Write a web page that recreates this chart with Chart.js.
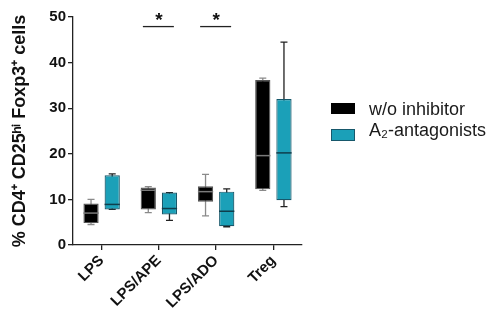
<!DOCTYPE html>
<html>
<head>
<meta charset="utf-8">
<script src="https://cdn.jsdelivr.net/npm/chart.js@4/dist/chart.umd.min.js"></script>
<style>
    body { margin: 0; background: #fff; }
    #wrap { position: relative; width: 493px; height: 330px; }
    .swatch { position: absolute; left: 331px; width: 24px; height: 11px; box-sizing: border-box; }
    .leg-text { position: absolute; left: 369px; font: 18px "Liberation Sans", Arial, sans-serif; line-height: 18px; color: #1a1a1a; white-space: nowrap; }
</style>
</head>
<body>
<div id="wrap">
    <canvas id="box-chart" width="493" height="330"></canvas>
    <div class="swatch" style="top:103px; background:#000;"></div>
    <div class="leg-text" style="top:100px;">w/o inhibitor</div>
    <div class="swatch" style="top:129px; height:12px; background:#1ba0b8; border:1px solid #17586b;"></div>
    <div class="leg-text" style="top:121px;">A₂-antagonists</div>
</div>
<script>
'use strict';

const categories = ['LPS', 'LPS/APE', 'LPS/ADO', 'Treg'];

// w/o inhibitor
const no_inh_min = [4.5, 7.1, 6.4, 12.0];
const no_inh_q1 = [4.8, 7.8, 9.5, 12.2];
const no_inh_median = [7.0, 12.0, 11.7, 19.6];
const no_inh_q3 = [9.1, 12.6, 12.9, 36.2];
const no_inh_max = [10.0, 12.8, 15.5, 36.6];

// A2-antagonists
const antag_min = [7.8, 5.4, 4.0, 8.4];
const antag_q1 = [7.8, 6.7, 4.1, 9.8];
const antag_median = [8.9, 8.0, 7.4, 20.2];
const antag_q3 = [15.3, 11.5, 11.7, 32.0];
const antag_max = [15.6, 11.5, 12.3, 44.5];

const sig_groups = ['LPS/APE', 'LPS/ADO'];
const sig_level = 47.9;

const y_ticks = [0, 10, 20, 30, 40, 50];

const font_family = '"Liberation Sans", Arial, sans-serif';

// whiskers behind the boxes, medians and significance marks on top
const box_extras = {
    id: 'box_extras',
    beforeDatasetsDraw(chart) {
        const ctx = chart.ctx;
        const y = chart.scales.y;
        chart.data.datasets.forEach((ds, d) => {
            chart.getDatasetMeta(d).data.forEach((bar, i) => {
                const x = bar.x;
                ctx.save();
                ctx.strokeStyle = ds.whiskerColor;
                ctx.lineWidth = 1.3;
                ctx.beginPath();
                ctx.moveTo(x, y.getPixelForValue(ds.stats.min[i]));
                ctx.lineTo(x, y.getPixelForValue(ds.stats.max[i]));
                [ds.stats.min[i], ds.stats.max[i]].forEach(v => {
                    const py = y.getPixelForValue(v);
                    ctx.moveTo(x - 3.5, py);
                    ctx.lineTo(x + 3.5, py);
                });
                ctx.stroke();
                ctx.restore();
            });
        });
    },
    afterDatasetsDraw(chart) {
        const ctx = chart.ctx;
        const x = chart.scales.x;
        const y = chart.scales.y;
        chart.data.datasets.forEach((ds, d) => {
            chart.getDatasetMeta(d).data.forEach((bar, i) => {
                const py = y.getPixelForValue(ds.stats.median[i]);
                ctx.save();
                ctx.strokeStyle = ds.medianColor;
                ctx.lineWidth = 1.5;
                ctx.beginPath();
                ctx.moveTo(bar.x - bar.width / 2, py);
                ctx.lineTo(bar.x + bar.width / 2, py);
                ctx.stroke();
                ctx.restore();
            });
        });

        sig_groups.forEach(name => {
            const cx = x.getPixelForValue(categories.indexOf(name));
            const py = y.getPixelForValue(sig_level);
            ctx.save();
            ctx.strokeStyle = '#222';
            ctx.lineWidth = 1.3;
            ctx.beginPath();
            ctx.moveTo(cx - 16, py);
            ctx.lineTo(cx + 15, py);
            ctx.stroke();
            ctx.fillStyle = '#111';
            ctx.font = 'bold 19px ' + font_family;
            ctx.textAlign = 'center';
            ctx.textBaseline = 'alphabetic';
            ctx.fillText('*', cx, py - 1);
            ctx.restore();
        });
    }
};

const chart = new Chart(document.getElementById('box-chart'), {
    type: 'bar',
    data: {
        labels: categories,
        datasets: [
            {
                label: 'w/o inhibitor',
                data: categories.map((c, i) => [no_inh_q1[i], no_inh_q3[i]]),
                stats: { min: no_inh_min, median: no_inh_median, max: no_inh_max },
                backgroundColor: '#000',
                borderColor: '#555',
                borderWidth: 1.2,
                borderSkipped: false,
                whiskerColor: '#8a8a8a',
                medianColor: '#7a7a7a',
                categoryPercentage: 0.74,
                barPercentage: 0.72
            },
            {
                label: 'A₂-antagonists',
                data: categories.map((c, i) => [antag_q1[i], antag_q3[i]]),
                stats: { min: antag_min, median: antag_median, max: antag_max },
                backgroundColor: '#1ba0b8',
                borderColor: '#17586b',
                borderWidth: 1.2,
                borderSkipped: false,
                whiskerColor: '#222',
                medianColor: '#0f3e4c',
                categoryPercentage: 0.74,
                barPercentage: 0.72
            }
        ]
    },
    plugins: [box_extras],
    options: {
        responsive: false,
        animation: false,
        devicePixelRatio: 1,
        layout: { padding: { top: 17, right: 191, left: 0, bottom: 0 } },
        plugins: {
            legend: { display: false },
            tooltip: { enabled: false }
        },
        scales: {
            x: {
                offset: true,
                grid: { offset: false, drawOnChartArea: false, tickLength: 5, color: '#222', lineWidth: 1.3 },
                border: { color: '#222', width: 1.3 },
                ticks: {
                    maxRotation: 45,
                    minRotation: 45,
                    color: '#111',
                    padding: 2,
                    font: { family: font_family, size: 15, weight: 'bold' }
                },
                afterFit: s => { s.height = 85; }
            },
            y: {
                min: 0,
                max: 50,
                afterBuildTicks: s => { s.ticks = y_ticks.map(v => ({ value: v })); },
                grid: { drawOnChartArea: false, tickLength: 5, color: '#222', lineWidth: 1.3 },
                border: { color: '#222', width: 1.3 },
                ticks: {
                    color: '#111',
                    padding: 2,
                    font: { family: font_family, size: 15, weight: 'bold' }
                },
                title: {
                    display: true,
                    text: '% CD4⁺ CD25ʰⁱ Foxp3⁺ cells',
                    color: '#111',
                    padding: { top: 9, bottom: 0 },
                    font: { family: font_family, size: 18, weight: 'bold' }
                },
                afterFit: s => { s.width = 73; }
            }
        }
    }
});
</script>
</body>
</html>
